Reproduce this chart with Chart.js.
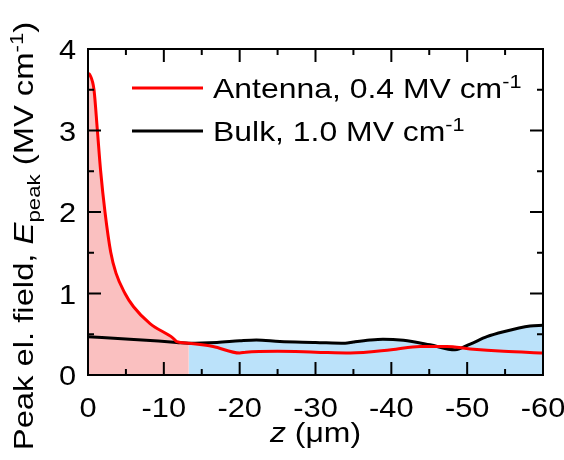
<!DOCTYPE html>
<html><head><meta charset="utf-8">
<script src="https://cdn.jsdelivr.net/npm/chart.js@4.4.1/dist/chart.umd.min.js"></script>
<style>html,body{margin:0;padding:0;background:#fff}#wrap{width:564px;height:460px}</style>
</head><body><div id="wrap"><canvas id="c" width="564" height="460"></canvas></div>
<script>
// ---- data ----
const antennaZ = [0, -0.26, -0.79, -1.23, -1.67, -2.24, -2.99, -3.69, -4.88, -5.98, -8.18, -11.25, -11.7, -13.3, -16.5, -20, -20.8, -25, -30, -34.6, -40, -43.8, -47.3, -50.4, -54.8, -60];
const antennaE = [3.70, 3.68, 3.50, 3.01, 2.50, 2.00, 1.51, 1.25, 1.00, 0.84, 0.63, 0.45, 0.41, 0.39, 0.35, 0.27, 0.28, 0.29, 0.28, 0.27, 0.31, 0.35, 0.35, 0.32, 0.29, 0.27];
const bulkZ = [0, -5.5, -11.7, -13.3, -17, -20, -22.2, -25.3, -30, -33.9, -35, -37.2, -38.9, -41.6, -45.1, -48.4, -50.4, -52.6, -54.8, -58.3, -60];
const bulkE = [0.47, 0.44, 0.40, 0.39, 0.40, 0.42, 0.43, 0.41, 0.40, 0.39, 0.405, 0.43, 0.44, 0.425, 0.37, 0.31, 0.38, 0.47, 0.53, 0.60, 0.61];
const splitZ = -13.3;
const xTicks = [0, -10, -20, -30, -40, -50, -60];
const yTicks = [0, 1, 2, 3, 4];
const legendLabels = ["Antenna, 0.4 MV cm", "Bulk, 1.0 MV cm"];

const FONT = "'Liberation Sans', Arial, sans-serif";
const SX = 1.14; // horizontal text stretch seen in the reference
const pts = (zs, es) => zs.map((z, i) => ({x: z, y: es[i]}));
const antenna = pts(antennaZ, antennaE);
const bulk = pts(bulkZ, bulkE);

function richWidth(ctx, segs) {
  let w = 0;
  for (const s of segs) { ctx.font = s.font; w += ctx.measureText(s.t).width; }
  return w;
}
function richText(ctx, x, y, segs, align, sx) {
  const w = richWidth(ctx, segs);
  ctx.save();
  ctx.translate(x, y);
  ctx.scale(sx, 1);
  let cx = align === 'center' ? -w / 2 : align === 'right' ? -w : 0;
  ctx.textAlign = 'left';
  ctx.textBaseline = 'alphabetic';
  for (const s of segs) {
    ctx.font = s.font;
    ctx.fillText(s.t, cx, s.dy || 0);
    cx += ctx.measureText(s.t).width;
  }
  ctx.restore();
}

const overlay = {
  id: 'overlay',
  afterDraw(chart) {
    const {ctx, chartArea: a, scales: {x, y}} = chart;
    ctx.save();
    ctx.strokeStyle = '#000';
    ctx.lineWidth = 2;
    const line = (x1, y1, x2, y2) => { ctx.beginPath(); ctx.moveTo(x1, y1); ctx.lineTo(x2, y2); ctx.stroke(); };
    for (let i = 0; i < xTicks.length; i++) {
      const px = x.getPixelForValue(xTicks[i]);
      line(px, a.bottom, px, a.bottom - 13); line(px, a.top, px, a.top + 13);
      if (i < xTicks.length - 1) {
        const pm = x.getPixelForValue((xTicks[i] + xTicks[i + 1]) / 2);
        line(pm, a.bottom, pm, a.bottom - 6); line(pm, a.top, pm, a.top + 6);
      }
    }
    for (let i = 0; i < yTicks.length; i++) {
      const py = y.getPixelForValue(yTicks[i]);
      line(a.left, py, a.left + 13, py); line(a.right, py, a.right - 13, py);
      if (i < yTicks.length - 1) {
        const pm = y.getPixelForValue((yTicks[i] + yTicks[i + 1]) / 2);
        line(a.left, pm, a.left + 6, pm); line(a.right, pm, a.right - 6, pm);
      }
    }
    ctx.strokeRect(a.left, a.top, a.right - a.left, a.bottom - a.top);

    ctx.fillStyle = '#000';
    const tick = '27px ' + FONT;
    const big = '28px ' + FONT, bigI = 'italic 28px ' + FONT, small = '19px ' + FONT;
    for (const v of xTicks) richText(ctx, x.getPixelForValue(v), 417, [{t: String(v), font: tick}], 'center', SX);
    for (const v of yTicks) richText(ctx, a.left - 12, y.getPixelForValue(v) + 10, [{t: String(v), font: tick}], 'right', SX);
    const colors = ['#ff0000', '#000000'];
    const ly = [88, 131];
    for (let i = 0; i < 2; i++) {
      ctx.strokeStyle = colors[i]; ctx.lineWidth = 3;
      line(132, ly[i], 203, ly[i]);
      richText(ctx, 213, ly[i] + 10, [{t: legendLabels[i], font: big}, {t: '-1', font: small, dy: -10}], 'left', SX);
    }
    richText(ctx, (a.left + a.right) / 2, 442, [{t: 'z', font: bigI}, {t: ' (μm)', font: big}], 'center', SX);
    const ys = [{t: 'Peak el. field, ', font: big}, {t: 'E', font: bigI}, {t: 'peak', font: small, dy: 7},
                {t: ' (MV cm', font: big}, {t: '-1', font: small, dy: -10}, {t: ')', font: big}];
    ctx.translate(33, 236);
    ctx.rotate(-Math.PI / 2);
    richText(ctx, 0, 0, ys, 'center', 1.17);
    ctx.restore();
  }
};

new Chart(document.getElementById('c'), {
  type: 'line',
  data: {
    datasets: [
      {data: antenna.filter(p => p.x >= splitZ), borderWidth: 0, pointRadius: 0, fill: 'origin',
       backgroundColor: 'rgb(250,192,192)', borderColor: 'rgba(0,0,0,0)', cubicInterpolationMode: 'monotone', order: 5},
      {data: bulk.filter(p => p.x <= splitZ), borderWidth: 0, pointRadius: 0, fill: 'origin',
       backgroundColor: 'rgb(187,226,250)', borderColor: 'rgba(0,0,0,0)', cubicInterpolationMode: 'monotone', order: 4},
      {data: bulk, borderColor: '#000', borderWidth: 3, pointRadius: 0, fill: false, cubicInterpolationMode: 'monotone', order: 2},
      {data: antenna, borderColor: '#ff0000', borderWidth: 3, pointRadius: 0, fill: false, cubicInterpolationMode: 'monotone', order: 1}
    ]
  },
  options: {
    responsive: false,
    animation: false,
    events: [],
    layout: {autoPadding: false, padding: {top: 49, right: 21, left: 0, bottom: 0}},
    plugins: {legend: {display: false}, tooltip: {enabled: false}},
    scales: {
      x: {type: 'linear', min: -60, max: 0, reverse: true,
          grid: {display: false, drawTicks: false}, border: {display: false},
          afterBuildTicks: s => { s.ticks = xTicks.map(v => ({value: v})); },
          afterFit: s => { s.height = 85; },
          ticks: {display: false}},
      y: {type: 'linear', min: 0, max: 4,
          grid: {display: false, drawTicks: false}, border: {display: false},
          afterBuildTicks: s => { s.ticks = yTicks.map(v => ({value: v})); },
          afterFit: s => { s.width = 88; },
          ticks: {display: false}}
    }
  },
  plugins: [overlay]
});
</script></body></html>
